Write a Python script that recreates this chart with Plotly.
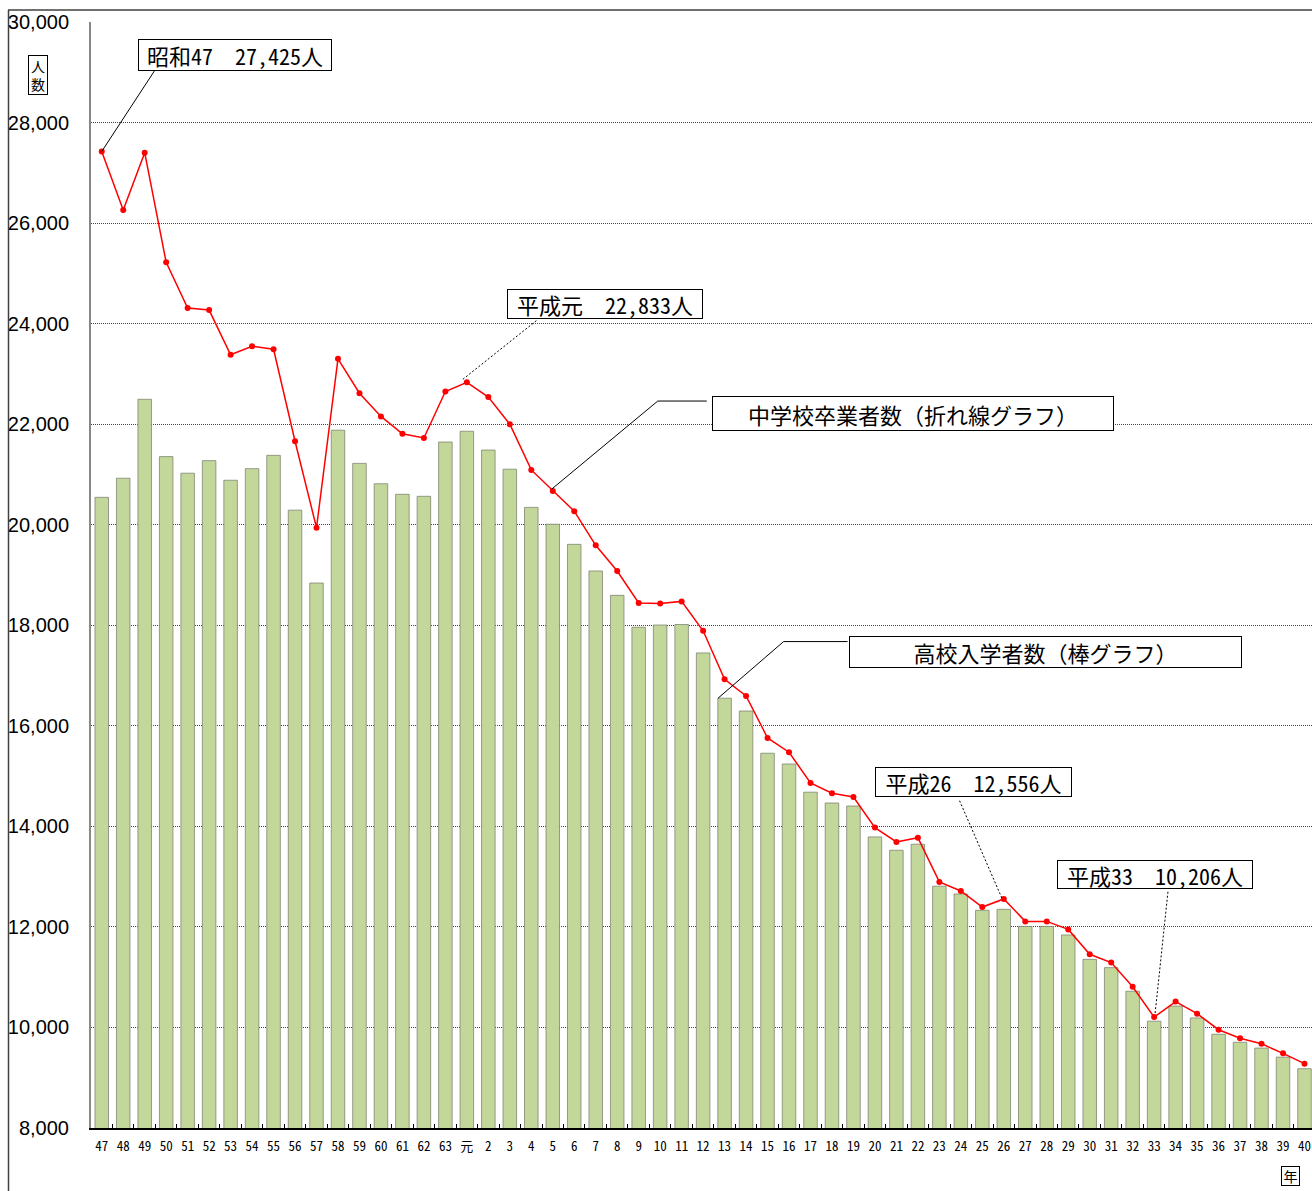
import plotly.graph_objects as go

# ---- data ----
categories = (["47", "48", "49", "50", "51", "52", "53", "54", "55", "56", "57",
               "58", "59", "60", "61", "62", "63", "元"] +
              [str(i) for i in range(2, 41)])

graduates = [27425, 26260, 27400, 25220, 24310, 24270, 23380, 23550, 23490, 21660,
             19940, 23300, 22615, 22155, 21810, 21725, 22650, 22833, 22540, 22000,
             21090, 20670, 20270, 19590, 19080, 18445, 18435, 18475, 17890, 16925,
             16595, 15760, 15475, 14865, 14660, 14585, 13975, 13690, 13775, 12895,
             12715, 12395, 12556, 12110, 12110, 11950, 11455, 11290, 10810, 10206,
             10515, 10275, 9955, 9785, 9675, 9485, 9280]

entrants = [20545, 20925, 22495, 21355, 21025, 21275, 20885, 21115, 21380, 20290,
            18840, 21880, 21220, 20815, 20605, 20565, 21645, 21860, 21485, 21105,
            20345, 20010, 19610, 19080, 18595, 17960, 18005, 18015, 17450, 16550,
            16295, 15455, 15240, 14680, 14465, 14405, 13790, 13525, 13645, 12810,
            12655, 12330, 12350, 12010, 12010, 11840, 11355, 11190, 10720, 10125,
            10425, 10190, 9865, 9705, 9590, 9410, 9180]

y_ticks = [8000, 10000, 12000, 14000, 16000, 18000, 20000, 22000, 24000, 26000, 28000, 30000]

# ---- geometry (screen pixels; body margin removed by post_script) ----
W, H = 1312, 1191
PLOT_L, PLOT_R, PLOT_T, PLOT_B = 91, 1312, 22, 1128   # on-screen plot box
L, T = PLOT_L, PLOT_T
R, B = W - PLOT_R, H - PLOT_B
PW, PH = W - L - R, H - T - B


def px(x):
    return (x - PLOT_L) / PW


def py(y):
    return (PLOT_B - y) / PH


JP = "Noto Sans Mono CJK JP, Noto Sans CJK JP"

fig = go.Figure()
fig.add_trace(go.Bar(
    x=categories, y=entrants, width=0.63,
    marker=dict(color="#C4D79B", line=dict(color="rgba(120,128,110,0.75)", width=1)),
    showlegend=False, hoverinfo="x+y"))
fig.add_trace(go.Scatter(
    x=categories, y=graduates, mode="lines+markers",
    line=dict(color="#FF0000", width=1.5),
    marker=dict(color="#FF0000", size=6),
    showlegend=False))

shapes = []


def leader(idx, val, pts, dash="solid"):
    for (a, b) in zip(pts[:-1], pts[1:]):
        shapes.append(dict(type="line", xref="x", yref="y",
                           xsizemode="pixel", ysizemode="pixel",
                           xanchor=idx, yanchor=val,
                           x0=a[0], y0=a[1], x1=b[0], y1=b[1],
                           line=dict(color="black", width=1, dash=dash)))


leader(0, graduates[0], [(0, 0), (53, 81)])
leader(17, graduates[17], [(-4, 3), (70, 62)], dash="2px,2px")
leader(21, graduates[21], [(-1, 2), (105, 90), (154, 90)])
leader(29, entrants[29], [(-6.5, 0), (59, 56.6), (123, 56.6)])
leader(42, graduates[42], [(-2, 1), (-45, 100)], dash="2px,2px")
leader(49, graduates[49], [(1, 4), (14, 127)], dash="2px,2px")

# outer chart frame
shapes.append(dict(type="line", xref="paper", yref="paper",
                   x0=px(8.5), x1=px(8.5), y0=py(10), y1=py(1200),
                   line=dict(color="#404040", width=1.5)))
shapes.append(dict(type="line", xref="paper", yref="paper",
                   x0=px(8), x1=px(1320), y0=py(10), y1=py(10),
                   line=dict(color="#404040", width=1.5)))

annotations = []


def box(text, left, top, w, h, size=22):
    annotations.append(dict(
        text=text, xref="paper", yref="paper", x=px(left), y=py(top),
        xanchor="left", yanchor="top", showarrow=False,
        width=w - 2, height=h - 2, borderpad=0, borderwidth=1,
        bordercolor="black", bgcolor="white", align="center", valign="middle",
        font=dict(family=JP, size=size, color="black")))


box("昭和47　27,425人", 138, 39, 194, 32)
box("平成元　22,833人", 507, 289, 196, 30)
box("中学校卒業者数（折れ線グラフ）", 712, 396, 402, 35)
box("高校入学者数（棒グラフ）", 849, 636, 393, 32)
box("平成26　12,556人", 875, 767, 197, 30)
box("平成33　10,206人", 1057, 860, 196, 29)
box("人<br>数", 28, 55, 20, 40, size=14)
box("年", 1281, 1166, 19, 20, size=14)

fig.update_layout(
    width=W, height=H,
    margin=dict(l=L, r=R, t=T, b=B),
    paper_bgcolor="white", plot_bgcolor="white",
    bargap=0.37,
    shapes=shapes, annotations=annotations,
    xaxis=dict(type="category", range=[-0.5, 56.35],
               showgrid=False, showline=True, linecolor="black", linewidth=1.5,
               ticks="inside", ticklen=4, tickcolor="black", tickson="boundaries",
               ticklabelstandoff=6, tickangle=0,
               tickfont=dict(family=JP, size=13, color="black")),
    yaxis=dict(range=[8000, 30000], tickvals=y_ticks, tickformat=",",
               showgrid=True, gridcolor="#444444", griddash="1px,1px", gridwidth=1,
               showline=True, linecolor="#888888", linewidth=2,
               ticks="", ticklabelstandoff=16, zeroline=False,
               tickfont=dict(family="Liberation Sans", size=20, color="black")),
)

fig.write_html(
    "out.html",
    config={"displayModeBar": False},
    post_script=("document.body.style.margin='0';"
                 "document.body.style.overflow='hidden';"
                 "document.documentElement.style.overflow='hidden';"))
